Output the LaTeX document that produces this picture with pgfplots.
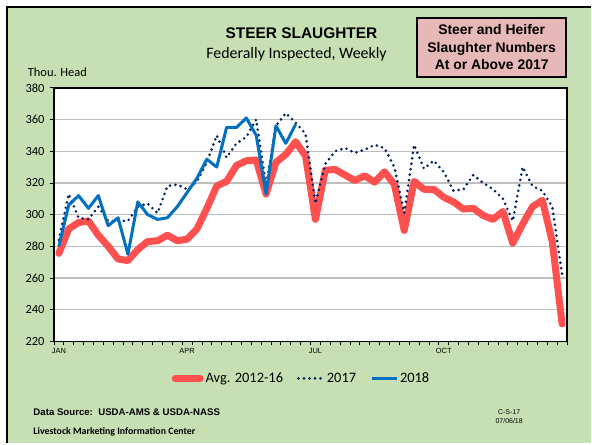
\documentclass[border=0pt]{standalone}
\usepackage{pgfplots}
\pgfplotsset{compat=1.18}
\usepackage{fontspec}
\setmainfont{Carlito}
\newfontfamily\arial{Liberation Sans}
\definecolor{bg}{HTML}{C6E0B4}
\definecolor{boxc}{HTML}{E6B8B7}
\definecolor{avgred}{HTML}{FF5050}
\definecolor{blue18}{HTML}{0070C0}
\definecolor{navy17}{HTML}{002060}
\begin{document}
\begin{tikzpicture}[x=1bp,y=1bp]
\fill[white] (0,0) rectangle (592,444);
\fill[bg] (7,0) rectangle (592,437);
\draw[line width=2bp] (7,0) -- (7,437) -- (592,437);
\begin{axis}[at={(54bp,102bp)}, anchor=south west, scale only axis,
  width=514bp, height=254bp,
  xmin=-0.5, xmax=51.5, ymin=220, ymax=380, ytick={220,240,...,380},
  axis background/.style={fill=white},
  axis line style={line width=1.8bp, black},
  ymajorgrids, grid style={line width=1.2bp, color=black!25},
  xtick={-0.5,0.5,...,51.5}, xticklabels={},
  extra x ticks={0,13,26,39}, extra x tick labels={JAN,APR,JUL,OCT},
  extra x tick style={major tick length=0pt, grid=none,
     xticklabel style={font=\arial\fontsize{7.5}{9}\selectfont, yshift=-3.5bp}},
  tick pos=left, tick align=outside,
  major tick length=4bp,
  tick style={line width=0.8bp, black},
  yticklabel style={font=\fontsize{12.5}{14}\selectfont, xshift=-2bp},
  /pgf/number format/assume math mode=true,
  legend style={at={(rel axis cs:0.4825,-0.1457)}, anchor=center, draw=none, fill=none,
    font=\fontsize{14.5}{16}\selectfont, legend columns=3,
    /tikz/every even column/.append style={column sep=12bp}},
  legend image code/.code={\draw[#1] (0bp,0bp) -- (25bp,0bp);},
  clip=false,
]
\addplot[avgred, line width=7bp, line join=round, line cap=round] coordinates {
(0,275.5) (1,291) (2,295) (3,296) (4,287) (5,280) (6,272) (7,271) (8,278) (9,283)
(10,283.5) (11,287) (12,283.5) (13,284.5) (14,291) (15,304) (16,318) (17,321) (18,331) (19,334)
(20,334.5) (21,313) (22,333) (23,338) (24,346) (25,337) (26,297) (27,328) (28,328.5) (29,325)
(30,321.5) (31,324.5) (32,320.5) (33,327) (34,319) (35,290) (36,321) (37,316) (38,316) (39,311)
(40,308) (41,303.5) (42,304) (43,299.5) (44,297) (45,302) (46,282) (47,294) (48,305) (49,309)
(50,283) (51,231)};
\addlegendentry{Avg. 2012-16}
\addplot[navy17, line width=2.9bp, line cap=round, dash pattern=on 0bp off 5.5bp] coordinates {
(0,284) (1,313) (2,298) (3,297) (4,305) (5,296) (6,296) (7,296) (8,305) (9,307)
(10,301) (11,318) (12,319) (13,316) (14,321) (15,333) (16,350) (17,336) (18,345) (19,349)
(20,360) (21,318) (22,356) (23,364) (24,358) (25,351) (26,307) (27,332) (28,340) (29,342)
(30,339) (31,341) (32,344) (33,342) (34,330) (35,301) (36,344) (37,329) (38,334) (39,327)
(40,315) (41,316) (42,325) (43,320) (44,316) (45,310) (46,296) (47,330) (48,318) (49,315)
(50,305) (51,262)};
\addlegendentry{2017}
\addplot[blue18, line width=3bp, line join=round] coordinates {
(0,280) (1,306) (2,312) (3,304) (4,312) (5,293) (6,298) (7,275) (8,308) (9,300)
(10,297) (11,298) (12,305) (13,314) (14,323) (15,335) (16,330) (17,355) (18,355) (19,361)
(20,350) (21,313) (22,356) (23,345) (24,357)};
\addlegendentry{2018}
\end{axis}
\node[font=\arial\bfseries\fontsize{15.5}{18}\selectfont] at (302,411) {STEER SLAUGHTER};
\node[font=\fontsize{16}{18}\selectfont] at (297,390) {Federally Inspected, Weekly};
\node[font=\fontsize{12.5}{14}\selectfont] at (57.5,372) {Thou. Head};
\draw[fill=boxc, line width=1.8bp] (418,426) rectangle (567,367);
\node[font=\arial\bfseries\fontsize{14}{17.5}\selectfont, align=center] at (492.5,396.5)
  {Steer and Heifer\\Slaughter Numbers\\At or Above 2017};
\node[font=\arial\bfseries\fontsize{9.7}{11}\selectfont, anchor=west] at (30,31)
  {Data Source:\ \ USDA-AMS \& USDA-NASS};
\node[font=\bfseries\fontsize{9.9}{11}\selectfont, anchor=west] at (30,11)
  {Livestock Marketing Information Center};
\node[font=\arial\fontsize{7}{8}\selectfont, align=center] at (510,27)
  {C-S-17\\[1bp]07/06/18};
\end{tikzpicture}
\end{document}
